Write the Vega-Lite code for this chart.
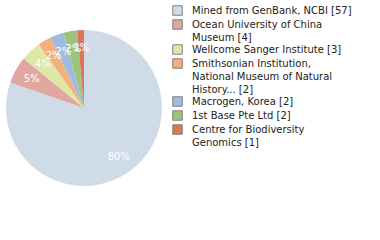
{
  "$schema": "https://vega.github.io/schema/vega-lite/v6.json",
  "width": 156,
  "height": 156,
  "autosize": {"type": "none"},
  "padding": {"left": 6, "top": 30, "right": 218, "bottom": 54},
  "background": "white",
  "config": {"view": {"stroke": null}},
  "data": {
    "values": [
      {"source": "Mined from GenBank, NCBI [57]", "count": 57, "order": 1, "pct": "80%"},
      {"source": "Ocean University of China|Museum [4]", "count": 4, "order": 2, "pct": "5%"},
      {"source": "Wellcome Sanger Institute [3]", "count": 3, "order": 3, "pct": "4%"},
      {"source": "Smithsonian Institution,|National Museum of Natural|History... [2]", "count": 2, "order": 4, "pct": "2%"},
      {"source": "Macrogen, Korea [2]", "count": 2, "order": 5, "pct": "2%"},
      {"source": "1st Base Pte Ltd [2]", "count": 2, "order": 6, "pct": "2%"},
      {"source": "Centre for Biodiversity|Genomics [1]", "count": 1, "order": 7, "pct": "1%"}
    ]
  },
  "encoding": {
    "theta": {"field": "count", "type": "quantitative", "stack": true},
    "order": {"field": "order", "type": "quantitative"}
  },
  "layer": [
    {
      "mark": {"type": "arc", "outerRadius": 78},
      "encoding": {
        "color": {
          "field": "source",
          "type": "nominal",
          "sort": {"field": "order"},
          "scale": {
            "domain": [
              "Mined from GenBank, NCBI [57]",
              "Ocean University of China|Museum [4]",
              "Wellcome Sanger Institute [3]",
              "Smithsonian Institution,|National Museum of Natural|History... [2]",
              "Macrogen, Korea [2]",
              "1st Base Pte Ltd [2]",
              "Centre for Biodiversity|Genomics [1]"
            ],
            "range": ["#cfdbe6", "#e0a7a0", "#dfe6a6", "#f2b07a", "#9ebcde", "#9dc47c", "#de7458"]
          },
          "legend": {
            "title": null,
            "orient": "none",
            "legendX": 166,
            "legendY": -25,
            "symbolType": "square",
            "symbolSize": 90,
            "symbolStrokeColor": "#808080",
            "symbolStrokeWidth": 1,
            "labelFont": "DejaVu Sans",
            "labelFontSize": 10,
            "labelColor": "#222222",
            "labelLimit": 300,
            "labelOffset": 9,
            "rowPadding": -1,
            "labelExpr": "split(datum.label, '|')",
            "encode": {"labels": {"update": {"lineHeight": {"value": 13}}}}
          }
        }
      }
    },
    {
      "mark": {"type": "text", "radius": 60, "color": "white", "font": "DejaVu Sans", "fontSize": 10},
      "encoding": {"text": {"field": "pct"}}
    }
  ]
}
